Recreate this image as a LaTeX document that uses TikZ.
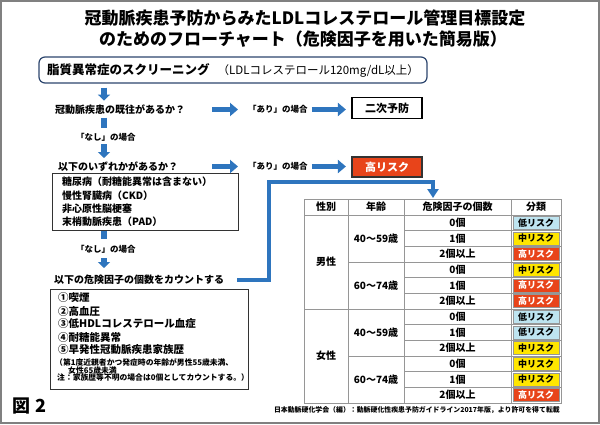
\documentclass[tikz,border=0pt]{standalone}
\usepackage{fontspec}
\setmainfont{Noto Sans CJK JP}
\usetikzlibrary{arrows.meta, positioning}

\definecolor{flowblue}{RGB}{46,117,190}
\definecolor{framegray}{RGB}{128,128,128}
\definecolor{gridgray}{RGB}{150,150,150}
\definecolor{boxnavy}{RGB}{45,70,110}
\definecolor{lowrisk}{RGB}{190,228,240}
\definecolor{midrisk}{RGB}{255,230,0}
\definecolor{highrisk}{RGB}{232,68,26}

\begin{document}
\begin{tikzpicture}[
    x=1pt, y=-1pt,
    every node/.style={inner sep=0pt},
    titletext/.style={font=\bfseries\fontsize{17}{19}\selectfont},
    question/.style={anchor=west, font=\bfseries\fontsize{10}{12}\selectfont},
    caseword/.style={anchor=west, font=\bfseries\fontsize{8.5}{10}\selectfont},
    result/.style={rectangle, minimum width=70pt, minimum height=21pt, line width=1.4pt, font=\bfseries\fontsize{11}{13}\selectfont},
    listbox/.style={rectangle, draw=black!80, line width=0.8pt, anchor=north west},
    listline/.style={anchor=west, font=\bfseries\fontsize{10}{12}\selectfont},
    riskline/.style={anchor=west, font=\bfseries\fontsize{10.5}{12}\selectfont},
    noteline/.style={anchor=west, font=\bfseries\fontsize{7.8}{9}\selectfont},
    downarrow/.style={flowblue, line width=6pt, -{Triangle[width=12pt,length=6pt]}},
    rightarrow/.style={flowblue, line width=5pt, -{Triangle[width=13pt,length=8pt]}},
    stem/.style={flowblue, line width=6pt},
    elbow/.style={flowblue, line width=3.5pt, -{Triangle[width=11pt,length=9pt]}},
    grid/.style={gridgray, line width=0.8pt},
    cell/.style={font=\bfseries\fontsize{10}{12}\selectfont},
    riskcell/.style={rectangle, draw=gridgray, line width=0.5pt, minimum width=46pt, minimum height=13pt, font=\bfseries\fontsize{9}{11}\selectfont},
    risklow/.style={fill=lowrisk, text=black},
    riskmid/.style={fill=midrisk, text=black},
    riskhigh/.style={fill=highrisk, text=white}
]
\fill[white] (0,0) rectangle (600,424);
\useasboundingbox (0,0) rectangle (600,424);
\draw[framegray, line width=2pt] (1,1) rectangle (599,423);

% Title
\node[titletext] (title1) at (305,18) {冠動脈疾患予防からみたLDLコレステロール管理目標設定};
\node[titletext] (title2) at (303,39) {のためのフローチャート（危険因子を用いた簡易版）};

% Screening
\node[rectangle, rounded corners=6pt, draw=boxnavy, line width=1.2pt, minimum width=388pt, minimum height=26pt] (screen) at (233,70)
    {\bfseries\fontsize{12.5}{14}\selectfont 脂質異常症のスクリーニング\hspace{8pt}{\mdseries\fontsize{11.5}{13}\selectfont （LDLコレステロール120mg/dL以上）}};
\coordinate (spine) at (104,0);

% Question 1
\node[question] (q1) at (55,109.5) {冠動脈疾患の既往があるか？};
\node[caseword] (ari1) at (248,109.5) {「あり」の場合};
\node[result, draw=black, fill=white] (niji) at (387,108) {二次予防};

% Question 2
\node[caseword] (nashi1) at (76,137) {「なし」の場合};
\node[question] (q2) at (58,166.5) {以下のいずれかがあるか？};
\node[caseword] (ari2) at (248,166.5) {「あり」の場合};
\node[result, draw=black!80, fill=highrisk, text=white, minimum height=20pt] (highbox) at (387,167) {高リスク};

\node[listbox, minimum width=186pt, minimum height=57pt] (condbox) at (52,173) {};
\foreach \txt [count=\k from 0] in {糖尿病（耐糖能異常は含まない）, 慢性腎臓病（CKD）, 非心原性脳梗塞, 末梢動脈疾患（PAD）}
    \node[listline] (cond\k) at (62,{182+\k*13.3}) {\txt};

% Risk factor count
\node[caseword] (nashi2) at (76,249) {「なし」の場合};
\node[question] (cnt) at (54,280) {以下の危険因子の個数をカウントする};

\node[listbox, minimum width=198pt, minimum height=100pt] (riskbox) at (50,289) {};
\foreach \txt [count=\k from 0] in {①喫煙, ②高血圧, ③低HDLコレステロール血症, ④耐糖能異常, ⑤早発性冠動脈疾患家族歴}
    \node[riskline] (risk\k) at (58,{298+\k*13}) {\txt};
\node[noteline] (note1) at (55,362.5) {（第1度近親者かつ発症時の年齢が男性55歳未満、};
\node[noteline] (note2) at (68,370.2) {女性65歳未満};
\node[noteline] (note3) at (57,378) {注：家族歴等不明の場合は0個としてカウントする。）};

% Figure label and source
\node[anchor=west, font=\bfseries\fontsize{18}{20}\selectfont] (fig) at (12,406) {図\hspace{5pt}2};
\node[anchor=east, font=\bfseries\fontsize{6.9}{8}\selectfont] (source) at (560,410.5) {日本動脈硬化学会（編）：動脈硬化性疾患予防ガイドライン2017年版，より許可を得て転載};

% Arrows down the left side
\draw[downarrow] (spine |- screen.south) ++(0,4) -- ++(0,13);
\draw[stem] (spine |- q1) ++(0,8) -- ++(0,10);
\draw[downarrow] (spine |- nashi1) ++(0,7) -- ++(0,14);
\draw[stem] (spine |- condbox.south) -- ++(0,8);
\draw[downarrow] (spine |- nashi2) ++(0,9) -- ++(0,10);

% Arrows to the right
\draw[rightarrow] (ari1.west) ++(-36,0) -- ++(26,0);
\draw[rightarrow] (ari1.east) ++(4,0) -- ++(34,0);
\draw[rightarrow] (ari2.west) ++(-36,0) -- ++(26,0);
\draw[rightarrow] (ari2.east) ++(4,0) -- ++(34,0);

% Table
\coordinate (turn) at (269,182);
\coordinate (tabletop) at (433,198);
\draw[elbow] ([xshift=13pt]cnt.east) -| (turn) -| (tabletop);

\draw[grid] (304,199) rectangle (561,403);
\foreach \xx in {348,404,511} \draw[grid] (\xx,199) -- (\xx,403);
\draw[grid] (304,215) -- (561,215);
\draw[grid] (304,309) -- (561,309);
\foreach \i in {3,9} \draw[grid] (348,{215+\i*15.667}) -- (561,{215+\i*15.667});
\foreach \i in {1,2,4,5,7,8,10,11} \draw[grid] (404,{215+\i*15.667}) -- (561,{215+\i*15.667});

\node[cell] (hsex) at (326,207) {性別};
\node[cell] (hage) at (376,207) {年齢};
\node[cell] (hnum) at (457.5,207) {危険因子の個数};
\node[cell] (hcls) at (536,207) {分類};

\node[cell] (male) at (326,262) {男性};
\node[cell] (female) at (326,356) {女性};
\node[cell] (age1) at (376,238.5) {40～59歳};
\node[cell] (age2) at (376,285.5) {60～74歳};
\node[cell] (age3) at (376,332.5) {40～59歳};
\node[cell] (age4) at (376,379.5) {60～74歳};

\foreach \num/\lvl/\cls [count=\i from 0] in {
    0個/risklow/低リスク, 1個/riskmid/中リスク, 2個以上/riskhigh/高リスク,
    0個/riskmid/中リスク, 1個/riskhigh/高リスク, 2個以上/riskhigh/高リスク,
    0個/risklow/低リスク, 1個/risklow/低リスク, 2個以上/riskmid/中リスク,
    0個/riskmid/中リスク, 1個/riskmid/中リスク, 2個以上/riskhigh/高リスク}
{
    \node[cell] (num\i) at (457.5,{222.8+\i*15.667}) {\num};
    \node[riskcell, \lvl] (cls\i) at (536,{222.8+\i*15.667}) {\cls};
}

\end{tikzpicture}
\end{document}
